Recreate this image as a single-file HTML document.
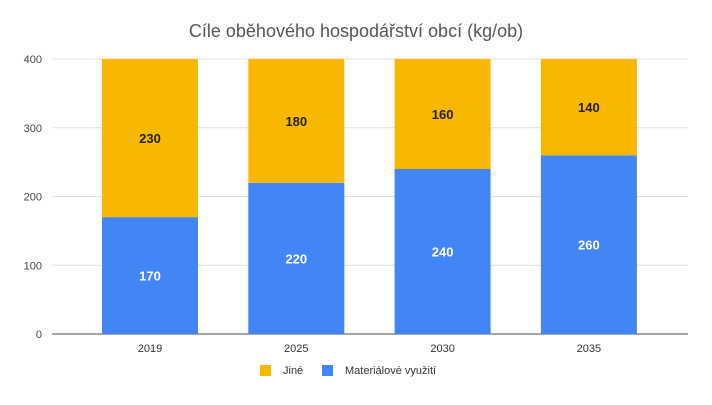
<!DOCTYPE html>
<html><head><meta charset="utf-8">
<style>
body{margin:0;background:#fff;font-family:"Liberation Sans",Arial,sans-serif;}
svg text{font-family:"Liberation Sans",Arial,sans-serif;}
</style></head>
<body>
<svg width="712" height="400">
<text x="356" y="37" text-anchor="middle" font-size="18" fill="#555">Cíle oběhového hospodářství obcí (kg/ob)</text>
<g id="grid"></g>
<g id="bars"></g>
<g id="legend">
<rect x="260" y="365" width="11" height="11" fill="#F9B800"/>
<text x="283" y="374" font-size="11" fill="#333">Jiné</text>
<rect x="322" y="365" width="11" height="11" fill="#4285F4"/>
<text x="345" y="374" font-size="11" fill="#333">Materiálové využití</text>
</g>
</svg>
<script>
const categories=["2019","2025","2030","2035"];
const materialValues=[170,220,240,260];
const otherValues=[230,180,160,140];
const yTicks=[0,100,200,300,400];
const NS="http://www.w3.org/2000/svg";
const y0=334,y1=59,yMax=400;
function y(v){return y0-(v/yMax)*(y0-y1);}
function xc(i){return 150+i*146.3;}
const bw=96;
function mk(tag,attrs,parent){const e=document.createElementNS(NS,tag);for(const k in attrs)e.setAttribute(k,attrs[k]);parent.appendChild(e);return e;}
const grid=document.getElementById('grid');
yTicks.forEach(t=>{
 const l=mk('line',{x1:52,x2:688,y1:y(t),y2:y(t),stroke:t===0?'#888':'#e0e0e0','stroke-width':t===0?1.5:1},grid);
 
 
 const tx=mk('text',{x:42,y:y(t)+4,'text-anchor':'end','font-size':11,fill:'#444'},grid);
 tx.textContent=t;
 
 
});
const bars=document.getElementById('bars');
categories.forEach((c,i)=>{
 const m=materialValues[i],o=otherValues[i];
 const b1=mk('rect',{x:xc(i)-bw/2,y:y(m),width:bw,height:y(0)-y(m),fill:'#4285F4'},bars);
 
 
 const b2=mk('rect',{x:xc(i)-bw/2,y:y(m+o),width:bw,height:y(m)-y(m+o),fill:'#F9B800'},bars);
 
 
 const t1=mk('text',{x:xc(i),y:(y(0)+y(m))/2+5,'text-anchor':'middle','font-size':13,'font-weight':'bold',fill:'#fff'},bars);
 t1.textContent=m;
 
 
 const t2=mk('text',{x:xc(i),y:(y(m)+y(m+o))/2+5,'text-anchor':'middle','font-size':13,'font-weight':'bold',fill:'#222'},bars);
 t2.textContent=o;
 
 
 const xl=mk('text',{x:xc(i),y:352,'text-anchor':'middle','font-size':11,fill:'#333'},bars);
 xl.textContent=c;
 
 
});
</script>
</body></html>
